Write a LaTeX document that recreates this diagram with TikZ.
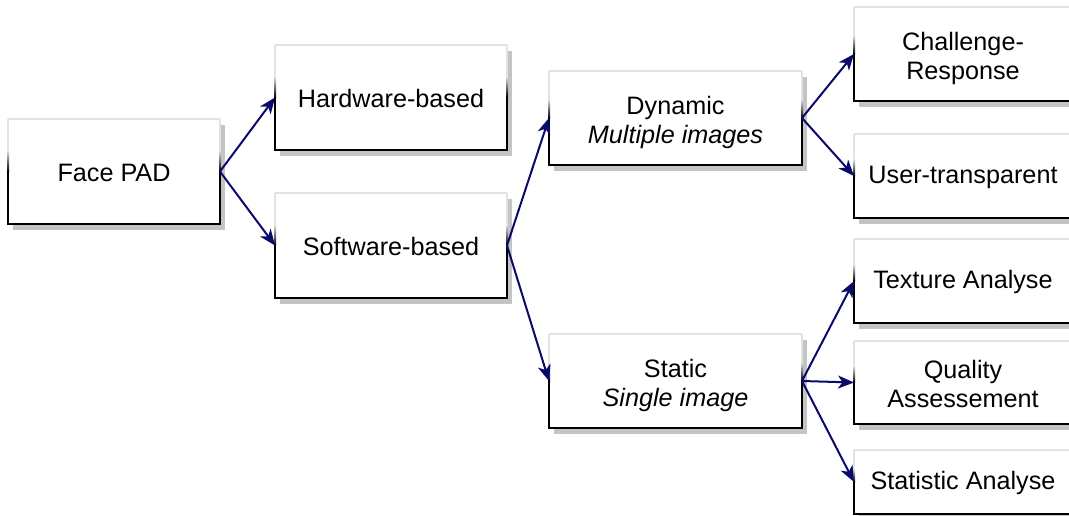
\documentclass[tikz,border=0pt]{standalone}
\usepackage{fontspec}
\setmainfont{Liberation Sans}
\usetikzlibrary{arrows.meta,shadows,calc}

\definecolor{navy}{HTML}{0A0A6A}
\definecolor{rimlight}{HTML}{E2E2E2}
\definecolor{shadowgray}{HTML}{C4C4C4}

% raises the first line of a two-line label a little less than its cap height
\newcommand\tallstrut{\rule{0pt}{27.5pt}}

\tikzset{
  blk/.style={rectangle, fill=white, draw=none, inner sep=0pt, outer sep=0pt,
    align=center, font=\fontsize{25.2}{29.5}\selectfont,
    execute at begin node={\rule{0pt}{20.5pt}},
    drop shadow={shadow xshift=5pt, shadow yshift=-6pt, fill=shadowgray, opacity=1}},
  arr/.style={draw=navy, line width=2pt,
    -{Stealth[length=16pt, width=13pt, inset=4.5pt]}},
  rimdark/.style={line width=2pt, draw=black, line cap=rect},
  rimtop/.style={line width=2pt, draw=rimlight},
}

% embossed frame of a block: light top, sides fading into black, black bottom
\newcommand\rimframe[1]{%
  \draw[rimtop] (#1.north west) -- (#1.north east);
  \foreach \s in {west,east}{%
    \draw[line width=2pt, draw=rimlight] (#1.north \s) -- ($(#1.north \s)!0.3!(#1.south \s)$);
    \shade[top color=rimlight, bottom color=black]
      ($(#1.north \s)!0.3!(#1.south \s)+(-1,0)$) rectangle ($(#1.north \s)!0.5!(#1.south \s)+(1,0)$);
    \draw[rimdark] ($(#1.north \s)!0.5!(#1.south \s)$) -- (#1.south \s);
  }
  \draw[rimdark] (#1.south west) -- (#1.south east);
}

\begin{document}
\begin{tikzpicture}[x=1pt, y=-1pt]
  \useasboundingbox (0,0) rectangle (1069,515);

  \node[blk, minimum width=212pt, minimum height=105pt] (face) at (114,171.5) {Face PAD};
  \node[blk, minimum width=232pt, minimum height=105pt] (hw)   at (391,97.5)  {Hardware-based};
  \node[blk, minimum width=232pt, minimum height=105pt] (sw)   at (391,245.5) {Software-based};
  \node[blk, minimum width=253pt, minimum height=94pt]  (dyn)  at (675.5,118) {\tallstrut Dynamic\\\textit{Multiple images}};
  \node[blk, minimum width=253pt, minimum height=94pt]  (sta)  at (675.5,381) {\tallstrut Static\\\textit{Single image}};
  \node[blk, minimum width=218pt, minimum height=94pt]  (chal) at (963,54)    {\tallstrut Challenge-\\Response};
  \node[blk, minimum width=218pt, minimum height=84pt]  (user) at (963,176)   {User-transparent};
  \node[blk, minimum width=218pt, minimum height=84pt]  (tex)  at (963,281)   {Texture Analyse};
  \node[blk, minimum width=218pt, minimum height=83pt]  (qual) at (963,382.5) {\rule{0pt}{21.5pt}Quality\\Assessement};
  \node[blk, minimum width=218pt, minimum height=64pt]  (stat) at (963,482)   {Statistic Analyse};

  \foreach \n in {face,hw,sw,dyn,sta,chal,user,tex,qual,stat}{\rimframe{\n}}

  \draw[arr] (face.east) -- (hw.west);
  \draw[arr] (face.east) -- (sw.west);
  \draw[arr] (sw.east) -- (dyn.west);
  \draw[arr] (sw.east) -- (sta.west);
  \draw[arr] (dyn.east) -- (chal.west);
  \draw[arr] (dyn.east) -- (user.west);
  \draw[arr] (sta.east) -- (tex.west);
  \draw[arr] (sta.east) -- (qual.west);
  \draw[arr] (sta.east) -- (stat.west);
\end{tikzpicture}
\end{document}
